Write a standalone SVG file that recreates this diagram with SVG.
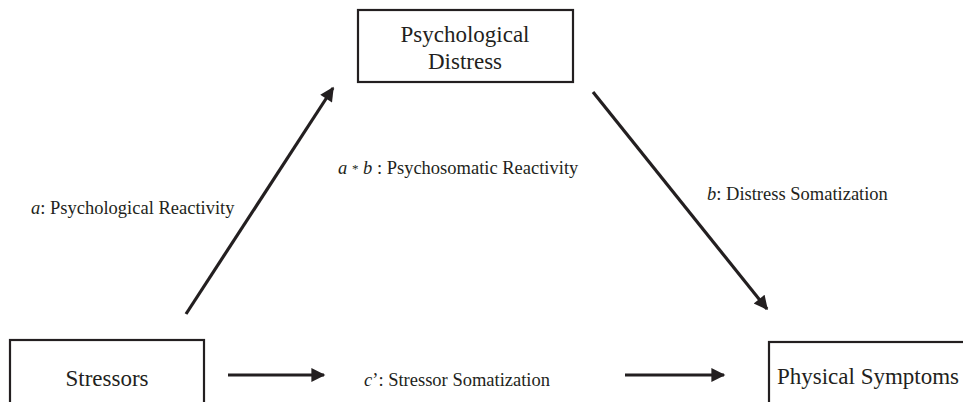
<svg xmlns="http://www.w3.org/2000/svg" width="963" height="402" viewBox="0 0 963 402">
<style>
.box{fill:#fff;stroke:#231f20;stroke-width:2.2}
text{font-family:'Liberation Serif',serif;fill:#231f20}
.n{font-size:23px;text-anchor:middle}
.l{font-size:18.5px}
.c{stroke:#231f20;stroke-width:3.2;fill:none;marker-end:url(#ah)}
</style>
<defs>
<marker id="ah" viewBox="0 0 10 10" refX="9" refY="5" markerUnits="userSpaceOnUse" markerWidth="22" markerHeight="14" orient="auto">
<path d="M0,0 L10,5 L0,10 Z" fill="#231f20"/>
</marker>
</defs>
<rect width="963" height="402" fill="#fff"/>
<g id="distress">
<rect class="box" x="358" y="10" width="215" height="72"/>
<text class="n" font-family="Liberation Serif, serif" x="465" y="42">Psychological</text>
<text class="n" font-family="Liberation Serif, serif" x="465" y="69">Distress</text>
</g>
<g id="stressors">
<rect class="box" x="10" y="340" width="194" height="80"/>
<text class="n" font-family="Liberation Serif, serif" x="107" y="386">Stressors</text>
</g>
<g id="symptoms">
<rect class="box" x="769" y="342" width="210" height="80"/>
<text class="n" font-family="Liberation Serif, serif" x="868" y="384">Physical Symptoms</text>
</g>
<g id="connectors">
<line class="c" x1="186" y1="314" x2="333" y2="88"/>
<line class="c" x1="593" y1="92" x2="767" y2="309"/>
<line class="c" x1="228" y1="375" x2="324" y2="375"/>
<line class="c" x1="625" y1="375" x2="724" y2="375"/>
</g>
<g id="labels">
<text class="l" font-family="Liberation Serif, serif" x="31" y="214"><tspan font-style="italic">a</tspan>: Psychological Reactivity</text>
<text class="l" font-family="Liberation Serif, serif" x="338" y="174"><tspan font-style="italic">a</tspan> <tspan font-size="13" dy="-1">*</tspan> <tspan font-style="italic" dy="1">b</tspan> : Psychosomatic Reactivity</text>
<text class="l" font-family="Liberation Serif, serif" x="707" y="200"><tspan font-style="italic">b</tspan>: Distress Somatization</text>
<text class="l" font-family="Liberation Serif, serif" x="364" y="386"><tspan font-style="italic">c</tspan>’: Stressor Somatization</text>
</g>
</svg>
